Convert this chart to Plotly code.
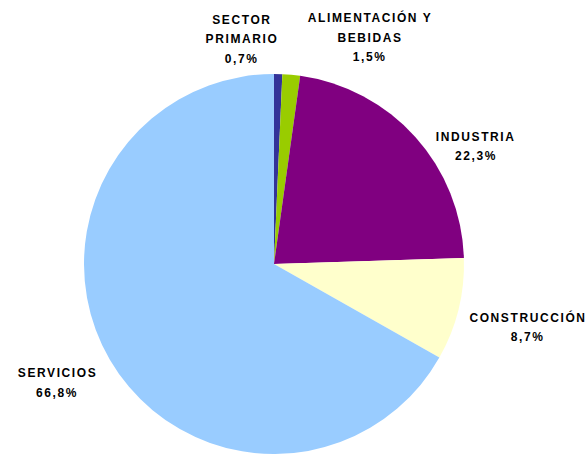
import plotly.graph_objects as go

categories = ["SECTOR PRIMARIO", "ALIMENTACIÓN Y BEBIDAS", "INDUSTRIA", "CONSTRUCCIÓN", "SERVICIOS"]
values = [0.7, 1.5, 22.3, 8.7, 66.8]
label_lines = [
    ["SECTOR", "PRIMARIO", "0,7%"],
    ["ALIMENTACIÓN Y", "BEBIDAS", "1,5%"],
    ["INDUSTRIA", "22,3%"],
    ["CONSTRUCCIÓN", "8,7%"],
    ["SERVICIOS", "66,8%"],
]
colors = ["#333399", "#99CC00", "#800080", "#FFFFCC", "#99CCFF"]

W, H = 587, 454
# label anchor (center x, first line y) in pixels
label_pos = [(242, 20), (370, 18), (476, 137), (528, 317), (57, 373)]
line_gap = 19.5

cx, cy, r = 274, 264, 190

fig = go.Figure(go.Pie(
    labels=categories, values=values, sort=False, direction="clockwise", rotation=0,
    marker=dict(colors=colors, line=dict(width=0)),
    textinfo="none", hoverinfo="label+percent", showlegend=False,
    domain=dict(x=[(cx - r) / W, (cx + r) / W],
                y=[max(0.0, (H - cy - r) / H), min(1.0, (H - cy + r) / H)]),
))

annotations = []
for lines, (px, py) in zip(label_lines, label_pos):
    for i, t in enumerate(lines):
        annotations.append(dict(
            x=px / W, y=1 - (py + i * line_gap) / H, xref="paper", yref="paper",
            text="<b>" + t + "</b>", showarrow=False, xanchor="center", yanchor="middle",
            font=dict(family="Liberation Sans, Arial, sans-serif", size=12, color="#000000"),
        ))

fig.update_layout(
    width=W, height=H, margin=dict(l=0, r=0, t=0, b=0),
    paper_bgcolor="white", plot_bgcolor="white",
    annotations=annotations,
)
post = (
    "document.body.style.margin='0';document.body.style.overflow='hidden';"
    "document.querySelectorAll('.annotation-text').forEach(function(e){e.style.letterSpacing='1.6px';});"
)
fig.write_html("out.html", config={"displayModeBar": False}, post_script=post)
